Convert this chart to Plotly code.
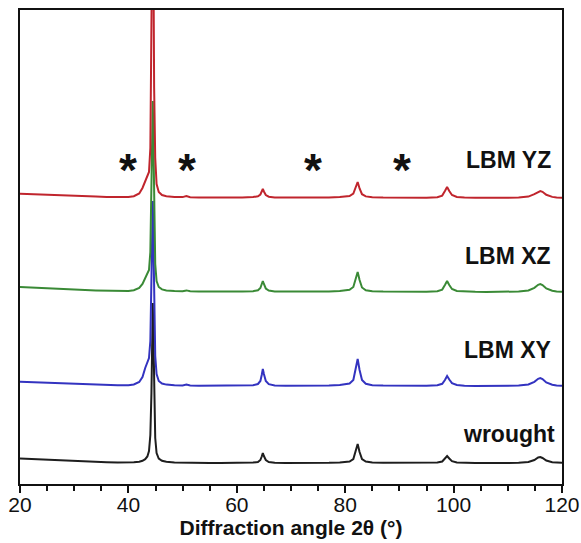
import plotly.graph_objects as go

# Diffraction angle grid (2θ, degrees)
two_theta = [20, 22, 24, 26, 28, 30, 32, 34, 36, 38, 40, 41, 42, 42.6, 43.1, 43.5, 43.8,
             44.05, 44.25, 44.4, 44.5, 44.6, 44.75, 44.95, 45.2, 45.6, 46.2, 47, 48.5, 50,
             50.7, 51.4, 53, 55, 57, 59, 61, 63, 63.9, 64.35, 64.6, 64.8, 65.0, 65.35, 65.9,
             67, 69, 71, 73, 75, 77, 79, 80.8, 81.5, 81.95, 82.3, 82.65, 83.1, 83.8, 85, 87,
             89, 91, 93, 95, 97, 97.9, 98.4, 98.8, 99.2, 99.7, 100.6, 102, 104, 106, 108,
             110, 112, 113.8, 114.9, 115.6, 116.0, 116.4, 117.1, 118.2, 119, 120]

# Intensities (a.u.) of each sample
wrought = [4.5, 4.0, 3.2, 2.9, 2.2, 1.8, 1.5, 1.0, 0.8, 0.5, 0.4, 0.7, 1.3, 2.2, 3.8, 6.5, 12,
           28, 70, 135, 160, 130, 60, 25, 10, 4.5, 2.2, 1.2, 0.6, 0.3,
           0.8, 0.2, 0.2, 0, 0.1, 0, 0.1, 0.4, 1.0, 3, 6.5, 10, 7, 3, 1,
           0.3, 0.1, 0, 0.1, 0, 0.2, 0.5, 1.5, 4, 12, 19, 11, 4, 1.5, 0.5, 0.2,
           0.1, 0, -0.1, 0, 0.4, 1.5, 4.5, 7, 4.5, 1.8, 0.6, 0.2, 0, -0.1, 0,
           0, 0.2, 1, 3, 5.5, 6, 5, 2.5, 0.8, 0.3, 0.2]

lbm_xy = [4.2, 3.8, 3.3, 2.7, 2.4, 1.9, 1.5, 1.2, 0.9, 0.7, 0.8, 1.5, 4, 9, 18, 25, 28,
          45, 100, 165, 185, 150, 70, 30, 12, 5, 2.5, 1.4, 0.8, 0.6,
          1.4, 0.5, 0.3, 0.3, 0.2, 0.3, 0.4, 0.8, 2, 5, 11, 17, 12, 5, 1.8,
          0.6, 0.3, 0.2, 0.2, 0.3, 0.5, 0.9, 2.5, 6, 17, 27, 16, 6, 2.2, 0.8, 0.4,
          0.2, 0.1, 0, 0.2, 0.7, 2.2, 6, 10, 6.5, 2.8, 1, 0.3, 0.1, 0, 0,
          0.1, 0.4, 1.5, 4.2, 7.2, 8, 7, 3.5, 1.2, 0.4, 0.2]

lbm_xz = [5, 4.4, 3.8, 3.2, 2.7, 2.3, 2.0, 1.6, 1.3, 1.0, 1.1, 1.8, 4, 8, 14, 19, 22,
          40, 105, 170, 191, 155, 70, 28, 11, 5, 2.6, 1.6, 1.0, 0.8,
          1.6, 0.7, 0.5, 0.4, 0.4, 0.4, 0.5, 0.8, 1.8, 4, 7.5, 11, 8, 3.5, 1.4,
          0.6, 0.4, 0.3, 0.3, 0.4, 0.6, 0.9, 2.2, 5, 13, 20, 12, 4.5, 1.8, 0.8, 0.4,
          0.3, 0.2, 0.1, 0.3, 0.8, 2.4, 7, 11, 7, 3, 1, 0.4, 0.2, 0.1, 0.1,
          0.2, 0.5, 1.6, 4.2, 7.2, 8, 7, 3.5, 1.2, 0.4, 0.2]

lbm_yz = [4.2, 3.7, 3.2, 2.8, 2.3, 2.0, 1.7, 1.4, 1.1, 0.9, 1.0, 1.8, 4.5, 10, 17, 22, 26,
          50, 150, 280, 330, 260, 110, 40, 14, 6, 3, 1.8, 1.1, 0.9,
          1.9, 0.8, 0.6, 0.5, 0.5, 0.5, 0.6, 0.9, 1.8, 3.5, 6.5, 9, 6.5, 3, 1.3,
          0.6, 0.5, 0.4, 0.4, 0.5, 0.6, 0.9, 2, 4.5, 10.5, 16, 9.5, 3.8, 1.6, 0.8, 0.5,
          0.4, 0.4, 0.2, 0.3, 0.8, 2.4, 7, 11, 7, 3, 1, 0.4, 0.3, 0.1, 0.2,
          0.2, 0.4, 1.4, 3.8, 6.3, 7, 6.2, 3.2, 1.1, 0.4, 0.3]

sample_names = ["wrought", "LBM XY", "LBM XZ", "LBM YZ"]
sample_data = [wrought, lbm_xy, lbm_xz, lbm_yz]
vertical_offsets = [21, 98, 192, 286]
line_colors = ["#1e1e1e", "#3333c0", "#3a8a36", "#c0252d"]

# Label positions (2θ, intensity) for each pattern
label_x = [119.0, 118.4, 118.4, 118.3]
label_y = [50, 134, 228, 324]

# Secondary-phase reflections marked with asterisks
star_x = [40.0, 50.8, 74.1, 90.4]
star_y = 314

fig = go.Figure()
for name, vals, off, col in zip(sample_names, sample_data, vertical_offsets, line_colors):
    fig.add_trace(go.Scatter(
        x=two_theta,
        y=[v + off for v in vals],
        mode="lines",
        name=name,
        line=dict(color=col, width=2),
        showlegend=False,
    ))

for name, lx, ly in zip(sample_names, label_x, label_y):
    fig.add_annotation(x=lx, y=ly, text=f"<b>{name}</b>", showarrow=False,
                       xanchor="right", yanchor="middle",
                       font=dict(family="Liberation Sans, Arial", size=23, color="#111111"))

for sx in star_x:
    fig.add_annotation(x=sx, y=star_y, text="<b>*</b>", showarrow=False,
                       xanchor="center", yanchor="middle",
                       font=dict(family="Liberation Sans, Arial", size=46, color="#111111"))

axis_font = dict(family="Liberation Sans, Arial", size=21, color="#111111")

fig.update_layout(
    width=581, height=543,
    margin=dict(l=20, r=19, t=10, b=59),
    paper_bgcolor="white", plot_bgcolor="white",
    xaxis=dict(
        range=[20, 120], showgrid=False, zeroline=False, automargin=False,
        showline=True, linecolor="#111111", linewidth=2, mirror=True,
        ticks="outside", tickvals=[20, 40, 60, 80, 100, 120],
        ticklen=7, tickwidth=2, tickcolor="#111111",
        tickfont=axis_font, ticklabelstandoff=-6,
        minor=dict(ticks="outside", dtick=5, ticklen=5, tickwidth=1.5, tickcolor="#111111"),
        title=dict(text="<b>Diffraction angle 2θ (°)</b>",
                   font=dict(family="Liberation Sans, Arial", size=21, color="#111111"),
                   standoff=0),
    ),
    yaxis=dict(
        range=[0, 474], showgrid=False, zeroline=False, automargin=False,
        showline=True, linecolor="#111111", linewidth=2, mirror=True,
        showticklabels=False, ticks="",
    ),
)

fig.write_html("out.html")
